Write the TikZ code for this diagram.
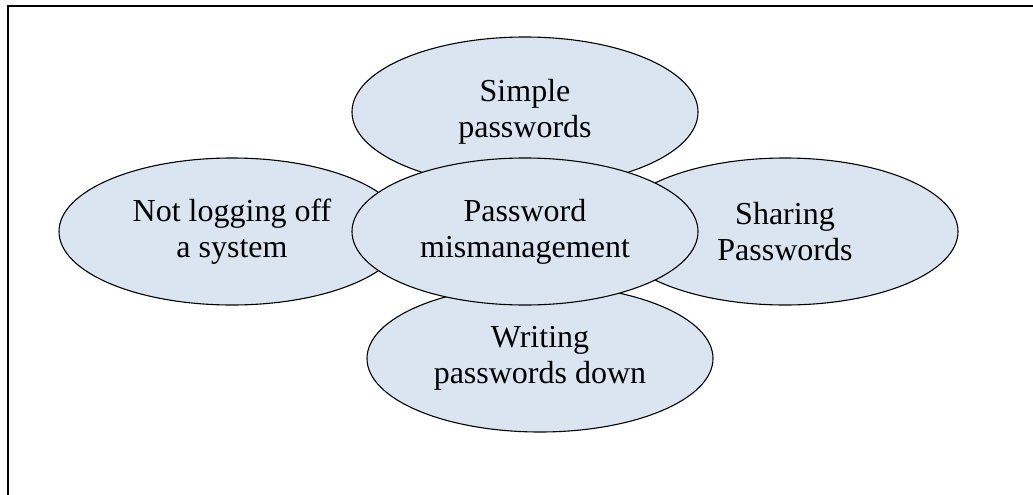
\documentclass[tikz,border=0pt]{standalone}
\usepackage{fontspec}
\setmainfont{Liberation Serif}
\usetikzlibrary{shapes.geometric}
\definecolor{bubblefill}{HTML}{DBE5F1}
\begin{document}
\begin{tikzpicture}[x=1pt,y=-1pt,
  bubble/.style={ellipse, draw=black, line width=1.1pt, fill=bubblefill,
    minimum width=346pt, minimum height=147pt, inner sep=0pt,
    align=center, font=\fontsize{32}{36}\selectfont}]
\useasboundingbox (0,0) rectangle (1033,495);
\coordinate (fTR) at (1033,6);
\coordinate (fTL) at (8,6);
\coordinate (fBL) at (8,495);
\draw[line width=2pt] (fTR) -- (fTL) -- (fBL);
\node[bubble, minimum height=150pt] (simple) at (525,112) {Simple\\passwords};
\node[bubble] (logoff) at (232,231.5) {Not logging off\\a system};
\node[bubble] (sharing) at (785,231.5) {Sharing\\Passwords};
\node[bubble] (writing) at (540,358.5) {Writing\\passwords down};
\node[bubble] (center) at (525,231.5) {Password\\mismanagement};
\end{tikzpicture}
\end{document}
